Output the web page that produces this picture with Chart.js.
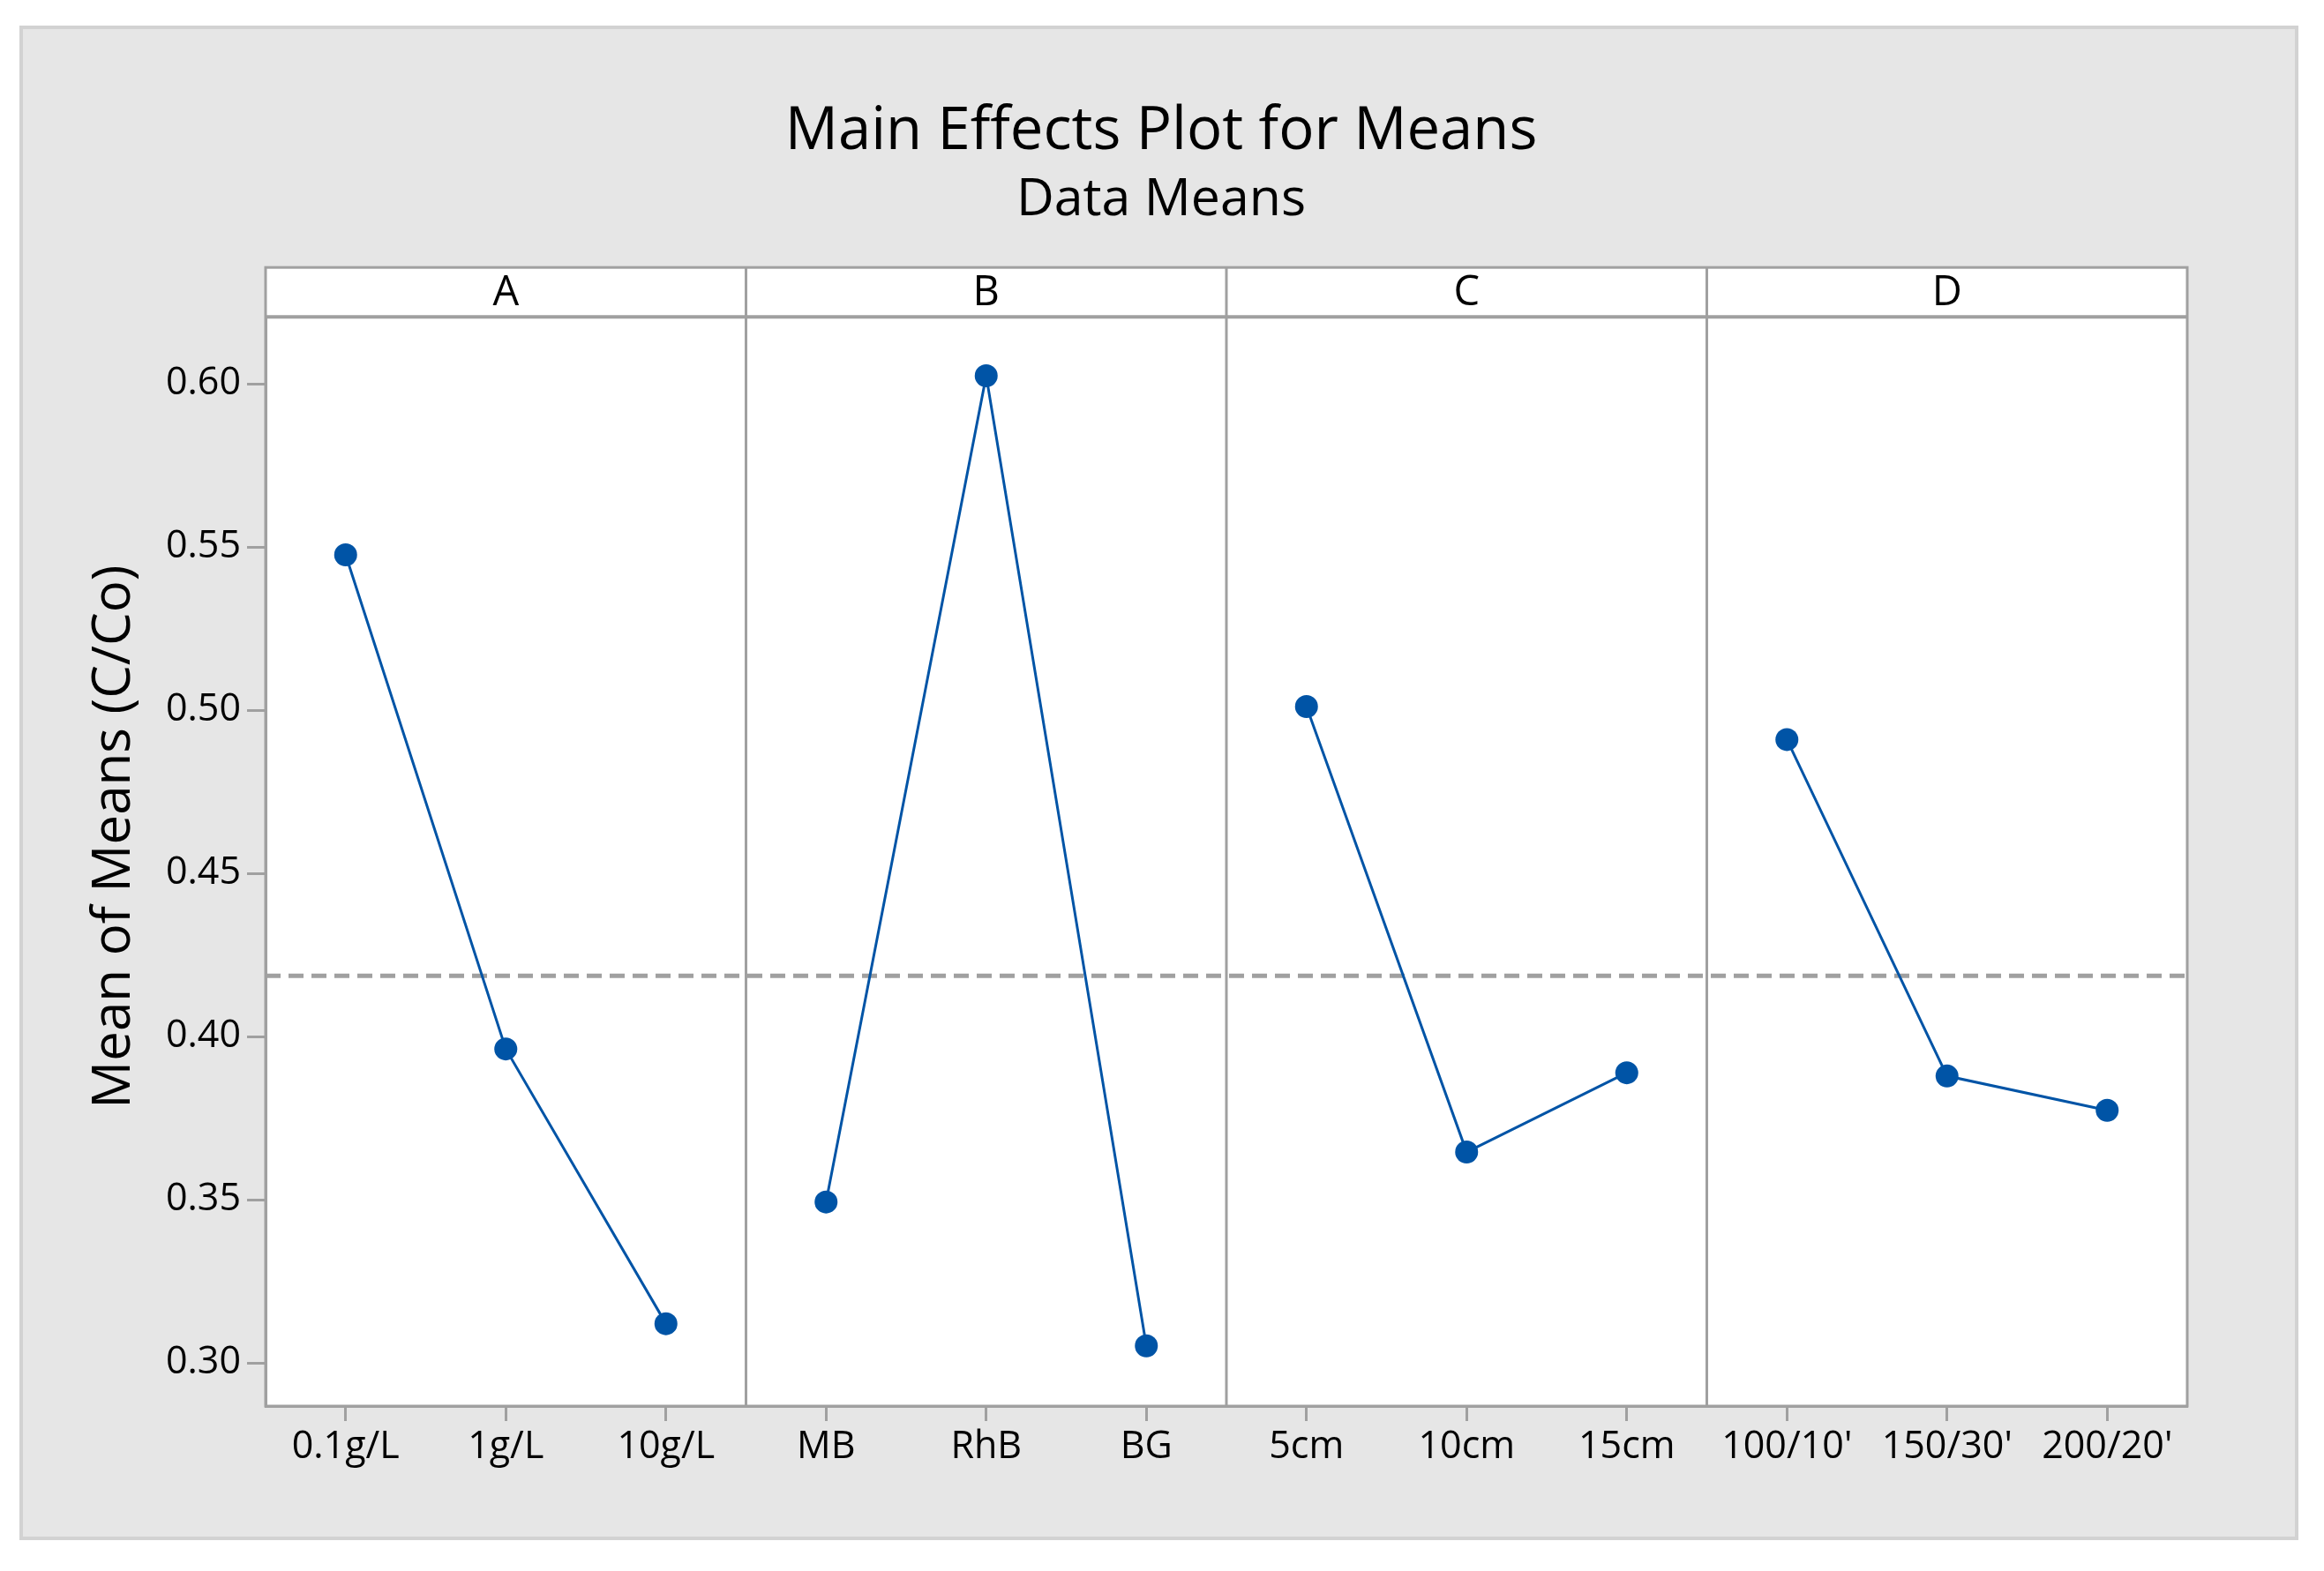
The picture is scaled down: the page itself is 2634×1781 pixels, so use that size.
<!DOCTYPE html>
<html>
<head>
<meta charset="utf-8">
<script src="https://cdn.jsdelivr.net/npm/chart.js@4.4.1/dist/chart.umd.min.js"></script>
<style>
html,body{margin:0;padding:0;background:#ffffff;}
#wrap{width:2634px;height:1781px;position:relative;}
</style>
</head>
<body>
<div id="wrap"><canvas id="c"></canvas></div>
<script>
// ---- data ----
const factors = ['A', 'B', 'C', 'D'];
const levelsA = ['0.1g/L', '1g/L', '10g/L'];
const levelsB = ['MB', 'RhB', 'BG'];
const levelsC = ['5cm', '10cm', '15cm'];
const levelsD = ["100/10'", "150/30'", "200/20'"];
const meansA = [0.5476, 0.3962, 0.3120];
const meansB = [0.3493, 0.6025, 0.3052];
const meansC = [0.5011, 0.3646, 0.3889];
const meansD = [0.4910, 0.3879, 0.3774];
const grandMean = 0.4186;
const yTicks = [0.30, 0.35, 0.40, 0.45, 0.50, 0.55, 0.60];
const titleText = 'Main Effects Plot for Means';
const subtitleText = 'Data Means';
const yAxisTitle = 'Mean of Means (C/Co)';

// ---- build ----
const levelGroups = [levelsA, levelsB, levelsC, levelsD];
const meanGroups = [meansA, meansB, meansC, meansD];
const categories = [].concat(...levelGroups);
const GRAY = '#a0a0a0';
const BLUE = '#0054a6';
const FONT = 'Open Sans';
const AREA_RIGHT = 2479;

const panelDatasets = meanGroups.map((vals, k) => {
  const data = categories.map(() => null);
  vals.forEach((v, j) => { data[k * 3 + j] = v; });
  return {
    label: factors[k],
    data: data,
    xAxisID: 'x',
    yAxisID: 'y',
    borderColor: BLUE,
    backgroundColor: BLUE,
    borderWidth: 3,
    pointRadius: 13,
    pointBorderWidth: 0,
    pointBackgroundColor: BLUE,
    spanGaps: false,
    tension: 0,
    order: 1
  };
});

const meanDataset = {
  label: 'mean',
  data: [{x: 0, y: grandMean}, {x: 1, y: grandMean}],
  xAxisID: 'xm',
  yAxisID: 'y',
  borderColor: GRAY,
  borderWidth: 5,
  borderDash: [17, 9],
  pointRadius: 0,
  order: 10
};

const decor = {
  id: 'decor',
  beforeDraw(chart) {
    const {ctx, chartArea: a} = chart;
    ctx.save();
    ctx.fillStyle = '#ffffff';
    ctx.fillRect(0, 0, chart.width, chart.height);
    ctx.fillStyle = '#e6e6e6';
    ctx.fillRect(24, 31, 2579, 1713);
    ctx.strokeStyle = '#d2d2d2';
    ctx.lineWidth = 4;
    ctx.strokeRect(24, 31, 2579, 1713);
    ctx.fillStyle = '#ffffff';
    ctx.fillRect(a.left, a.top, a.right - a.left, a.bottom - a.top);
    ctx.restore();
  },
  afterDatasetsDraw(chart) {
    const {ctx, chartArea: a} = chart;
    const x = chart.scales.x;
    const headerH = 56;
    const hb = a.top + headerH;
    ctx.save();
    ctx.fillStyle = '#ffffff';
    ctx.fillRect(a.left, a.top, a.right - a.left, headerH);
    ctx.strokeStyle = GRAY;
    ctx.lineWidth = 3;
    ctx.strokeRect(a.left, a.top, a.right - a.left, a.bottom - a.top);
    ctx.lineWidth = 4;
    ctx.beginPath();
    ctx.moveTo(a.left, hb);
    ctx.lineTo(a.right, hb);
    ctx.stroke();
    ctx.lineWidth = 3;
    for (let k = 1; k < factors.length; k++) {
      const px = (x.getPixelForValue(3 * k - 1) + x.getPixelForValue(3 * k)) / 2;
      ctx.beginPath();
      ctx.moveTo(px, a.top);
      ctx.lineTo(px, a.bottom);
      ctx.stroke();
    }
    ctx.fillStyle = '#000000';
    ctx.font = '47px "' + FONT + '"';
    ctx.textAlign = 'center';
    ctx.textBaseline = 'alphabetic';
    factors.forEach((f, k) => {
      const cx = x.getPixelForValue(3 * k + 1);
      ctx.fillText(f, cx, a.top + 43);
    });
    ctx.restore();
  }
};

new Chart(document.getElementById('c'), {
  type: 'line',
  data: {
    labels: categories,
    datasets: [...panelDatasets, meanDataset]
  },
  options: {
    responsive: true,
    maintainAspectRatio: false,
    devicePixelRatio: 1,
    animation: false,
    layout: {padding: {left: 0, right: 2, top: 0, bottom: 0}},
    plugins: {
      legend: {display: false},
      tooltip: {enabled: false},
      title: {
        display: true, text: titleText, color: '#000000',
        font: {family: FONT, size: 67, weight: 'normal', lineHeight: 1.2},
        padding: {top: 110, bottom: 0}
      },
      subtitle: {
        display: true, text: subtitleText, color: '#000000',
        font: {family: FONT, size: 59, weight: 'normal', lineHeight: 1.2},
        padding: {top: 1, bottom: 41}
      }
    },
    scales: {
      x: {
        type: 'category',
        position: 'bottom',
        offset: true,
        grid: {drawOnChartArea: false, drawTicks: true, tickLength: 17, tickWidth: 3, tickColor: GRAY, offset: false},
        border: {display: true, color: GRAY, width: 3},
        ticks: {autoSkip: false, maxRotation: 0, minRotation: 0, padding: 4, color: '#000000',
                font: {family: FONT, size: 43, lineHeight: 1.2}},
        afterFit(s) { s.height = 1781 - 1594; }
      },
      xm: {
        type: 'linear',
        axis: 'x',
        display: false,
        min: 0,
        max: 1
      },
      y: {
        type: 'linear',
        position: 'left',
        min: 0.28676,
        max: 0.63568,
        grid: {drawOnChartArea: false, drawTicks: true, tickLength: 21, tickWidth: 3, tickColor: GRAY},
        border: {display: true, color: GRAY, width: 3},
        ticks: {padding: 7, color: '#000000', font: {family: FONT, size: 43, lineHeight: 1.2},
                callback: (v) => Number(v).toFixed(2)},
        afterBuildTicks(s) { s.ticks = yTicks.map(v => ({value: v})); },
        title: {display: true, text: yAxisTitle, color: '#000000',
                font: {family: FONT, size: 60, weight: 'normal', lineHeight: 1.2},
                padding: {top: 94, bottom: 0}},
        afterFit(s) { s.width = 301; }
      },
      yr: {
        type: 'linear',
        position: 'right',
        axis: 'y',
        display: true,
        grid: {display: false, drawTicks: false},
        border: {display: false},
        ticks: {display: false},
        afterFit(s) { s.width = 2632 - AREA_RIGHT; }
      }
    }
  },
  plugins: [decor]
});
</script>
</body>
</html>
